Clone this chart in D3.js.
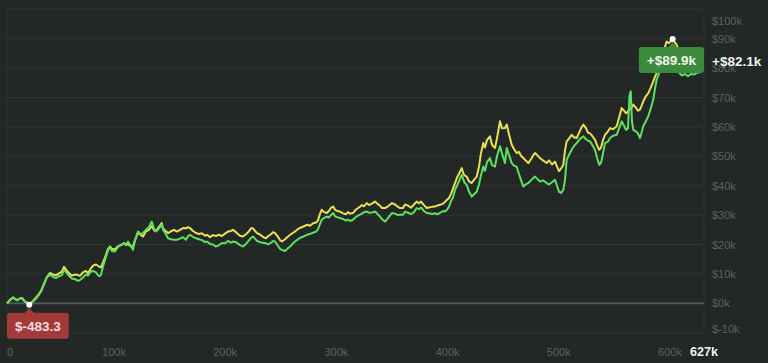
<!DOCTYPE html>
<html>
<head>
<meta charset="utf-8">
<script src="https://cdn.jsdelivr.net/npm/d3@7"></script>
<style>
  html, body { margin: 0; background: #232725; }
  svg { display: block; font-family: Arial, "Liberation Sans", sans-serif; }
</style>
</head>
<body>
<svg id="chart" width="768" height="363"></svg>
<script>
// trade count (thousands) and cumulative PnL (thousands of $) for both runs
const trades = [3.8,6.5,9.2,11.0,12.8,15.5,17.3,20.0,21.8,23.8,26.3,29.0,31.7,34.4,37.1,39.7,42.4,45.1,47.8,50.5,
  53.2,55.0,57.7,60.4,62.2,64.9,67.6,69.4,72.1,74.8,76.6,79.3,81.1,83.8,86.5,88.3,90.1,92.8,94.6,96.4,
  98.2,100.9,103.6,106.3,109.0,110.8,112.6,115.3,117.1,118.9,121.6,124.3,126.1,128.8,131.5,133.9,136.0,137.8,140.5,142.9,
  144.1,145.9,148.6,151.3,154.0,156.7,159.4,162.1,164.7,166.5,168.3,171.0,173.7,176.4,179.1,181.8,183.6,186.3,189.0,191.7,
  194.4,197.1,199.8,202.5,205.2,207.0,209.7,213.3,216.0,218.7,221.4,223.2,225.0,226.8,228.6,231.3,234.0,236.7,238.5,241.2,
  243.0,244.8,247.5,249.3,251.1,253.8,256.5,259.2,261.0,262.8,265.5,268.2,270.9,273.6,276.3,279.0,281.7,283.5,285.3,286.8,
  288.9,291.3,293.4,295.2,297.2,298.8,300.6,303.2,305.9,308.6,310.4,312.2,314.9,317.6,320.3,323.0,324.8,327.3,329.3,332.0,
  334.7,336.5,339.2,341.0,343.7,346.4,348.2,350.0,352.7,355.4,357.2,359.9,361.7,364.4,367.1,369.8,372.2,374.3,376.1,378.8,
  381.2,383.3,386.0,388.7,390.5,393.2,395.9,397.7,399.5,401.3,403.1,404.9,406.7,408.5,410.2,412.7,413.9,415.2,417.2,419.2,
  421.7,423.7,426.2,428.3,430.0,432.1,433.6,435.4,438.1,439.9,442.6,444.4,447.1,448.9,451.6,453.2,455.2,457.7,459.7,462.1,
  464.2,466.0,468.1,470.5,472.6,475.0,476.8,478.6,480.4,483.1,485.8,489.1,491.2,493.9,496.6,498.4,500.2,502.0,504.1,505.6,
  507.1,509.2,511.6,513.7,516.1,518.2,520.0,522.1,524.5,526.3,528.1,529.9,532.6,534.4,536.4,538.0,539.8,541.6,544.3,546.1,
  548.8,552.1,554.2,556.6,558.6,560.4,562.2,563.6,564.7,565.8,567.0,569.4,571.2,573.0,574.8,576.0,578.4,580.5,582.9,585.0,
  586.5,588.1,591.0,593.7,597.0,599.1,602.4,603.6,606.0,608.1,610.8,613.5,616.2,618.9,621.6,624.3,627.0];

const yellowPnl = [0,1.2,2.0,1.4,1.1,1.6,1.8,0.6,0.2,-0.4833,0.4,1.6,2.8,4.2,6.5,9.0,10.3,9.8,9.5,10.2,
  10.8,12.4,11.0,10.0,9.4,9.8,9.6,9.3,10.5,11.0,10.2,11.9,12.8,13.2,12.5,12.2,13.8,16.5,18.5,19.3,
  18.4,18.4,19.4,19.8,20.5,19.8,20.2,19.3,19.3,21.5,24.0,23.2,22.7,24.5,25.0,26.3,24.8,24.6,26.0,27.3,
  25.5,24.8,23.9,24.5,25.0,24.4,25.0,25.6,25.5,25.9,25.6,24.6,23.9,23.6,23.8,23.0,23.3,22.5,23.2,22.9,
  23.3,22.9,23.7,24.4,24.6,25.0,24.2,23.0,22.7,23.5,24.5,25.5,25.5,24.6,23.9,23.4,22.6,22.1,22.8,23.5,
  24.2,23.9,22.6,21.5,21.0,21.8,22.7,23.5,24.0,24.4,25.3,25.8,26.2,26.7,26.4,27.2,27.5,28.2,30.5,31.8,
  31.0,30.7,31.5,32.5,32.9,31.8,31.4,31.2,30.6,30.3,31.0,30.5,30.7,31.9,32.6,33.4,33.0,34.1,33.4,33.9,
  34.6,34.0,33.2,32.4,32.4,33.0,33.5,34.1,33.6,32.8,32.4,32.4,33.6,33.2,32.5,33.6,34.6,34.0,34.6,33.4,
  32.4,32.6,32.8,32.9,33.2,33.5,33.9,34.5,35.2,35.8,37.2,39.0,40.9,42.8,44.0,46.0,44.5,43.5,43.1,41.5,
  40.9,42.0,43.1,46.5,51.0,54.5,53.0,55.5,56.8,54.0,52.8,56.0,61.9,59.5,59.6,60.8,57.5,53.9,52.5,51.1,
  51.5,50.2,49.4,48.5,47.7,49.0,50.2,51.1,50.5,49.4,48.6,47.7,48.6,47.2,48.2,46.5,45.0,45.8,47.1,52.0,
  55.1,56.0,57.3,56.5,56.2,58.0,59.5,60.8,59.6,58.0,57.8,57.0,55.6,53.8,52.2,53.0,55.5,57.3,58.5,59.6,
  59.2,60.2,63.0,66.4,65.5,64.7,65.2,65.9,66.2,66.8,67.6,66.5,65.5,65.9,67.5,68.7,70.5,71.5,73.5,75.5,
  77.0,78.4,80.6,85.0,89.0,88.5,89.9,89.2,88.0,85.5,84.0,84.5,83.5,84.8,85.0,84.2,82.1];

const greenPnl = [0,1.0,2.0,1.5,1.0,1.7,1.7,0.5,0.3,-0.4,0.5,1.2,2.5,4.0,6.8,8.8,9.8,9.0,8.6,9.2,
  9.6,11.5,10.2,9.0,8.4,8.2,7.6,7.9,8.8,9.8,9.4,10.8,11.0,10.5,9.2,9.6,12.5,15.8,18.0,19.0,
  17.8,17.6,19.2,19.9,20.3,20.0,21.0,19.5,18.2,21.5,24.4,23.5,23.9,25.0,26.0,27.8,25.3,24.4,25.5,26.8,
  25.0,24.0,22.1,21.8,21.6,21.6,22.0,22.5,21.6,22.8,23.3,22.6,22.1,21.8,21.5,20.8,21.0,20.2,20.0,19.3,
  19.8,20.5,20.4,21.2,20.6,21.0,20.8,19.8,19.3,20.2,21.4,22.3,22.7,22.0,21.2,20.8,20.6,20.4,20.0,20.6,
  21.2,21.0,19.5,18.5,18.2,17.8,18.7,19.6,20.4,21.0,21.8,22.4,22.8,23.3,23.6,24.0,24.4,25.2,27.0,28.4,
  29.0,29.5,29.2,30.0,30.7,29.6,29.3,29.0,28.7,28.1,28.5,28.0,28.4,29.4,30.0,30.5,31.0,31.2,30.8,30.9,
  31.2,30.6,29.5,28.6,27.8,29.0,29.9,30.7,30.5,30.0,30.1,30.1,31.2,30.8,30.3,31.0,32.4,32.0,32.6,31.4,
  30.7,30.6,30.4,30.6,30.3,30.7,31.4,31.2,31.8,32.9,34.8,36.0,38.6,40.0,41.5,43.7,42.5,41.0,40.3,38.0,
  36.3,37.0,38.0,40.5,43.5,46.5,45.0,48.0,49.4,47.0,46.5,50.0,53.4,51.0,47.7,52.8,50.5,47.7,46.8,46.5,
  44.0,42.0,39.7,40.5,40.9,41.8,42.5,43.1,42.4,41.4,41.8,40.9,40.4,41.2,42.0,40.0,38.0,37.5,38.6,42.0,
  48.8,50.5,52.2,53.5,54.5,55.5,56.2,56.8,55.8,55.3,55.1,54.0,52.2,49.5,47.1,47.8,51.0,54.5,55.0,56.2,
  57.0,57.3,59.5,61.9,60.5,59.0,59.5,70.5,72.1,62.0,59.0,58.5,57.8,56.2,58.5,60.2,62.0,63.6,66.5,69.3,
  73.0,76.1,79.0,81.0,82.0,81.5,82.5,82.0,80.0,78.5,77.5,78.0,77.2,78.0,77.8,78.4,78.6];

const yTickValues = [-10, 0, 10, 20, 30, 40, 50, 60, 70, 80, 90, 100];
const xTickValues = [0, 100, 200, 300, 400, 500, 600];

const COLORS = { bg: "#232725", yellow: "#ece04e", green: "#5de260", grid: "#2f3532", zero: "#525754",
  tick: "#5c625f", up: "#3d8a3f", down: "#a33a3a" };

const plot = { left: 7, right: 704, top: 9.3, bottom: 332.7 };
const svg = d3.select("#chart");

const x = d3.scaleLinear().domain([0, 630.6]).range([2.8, 704]);
const y = d3.scaleLinear().domain([-10, 100]).range([plot.bottom, plot.top]);

// grid + frame
svg.append("g").selectAll("line").data(yTickValues.filter((v) => v !== 0)).join("line")
  .attr("x1", plot.left).attr("x2", plot.right)
  .attr("y1", (d) => y(d)).attr("y2", (d) => y(d))
  .attr("stroke", COLORS.grid).attr("stroke-width", 1);
svg.append("rect").attr("x", plot.left).attr("y", plot.top)
  .attr("width", plot.right - plot.left).attr("height", plot.bottom - plot.top)
  .attr("fill", "none").attr("stroke", COLORS.grid);
svg.append("line").attr("x1", plot.left).attr("x2", plot.right)
  .attr("y1", y(0)).attr("y2", y(0)).attr("stroke", COLORS.zero).attr("stroke-width", 2);

// axis labels (edge labels are kept inside the frame)
const fmtY = (v) => "$" + v + "k";
svg.append("g").selectAll("text").data(yTickValues).join("text")
  .attr("x", 712).attr("y", (d) => Math.max(21, Math.min(329, y(d))))
  .attr("dominant-baseline", "central").attr("font-size", 11).attr("fill", COLORS.tick)
  .text(fmtY);
svg.append("g").selectAll("text").data(xTickValues).join("text")
  .attr("x", (d) => d === 0 ? plot.left : x(d)).attr("y", 352)
  .attr("text-anchor", (d) => d === 0 ? "start" : "middle")
  .attr("dominant-baseline", "central").attr("font-size", 11).attr("fill", COLORS.tick)
  .text((d) => d === 0 ? "0" : d + "k");
svg.append("text").attr("x", plot.right).attr("y", 352)
  .attr("text-anchor", "middle").attr("dominant-baseline", "central")
  .attr("font-size", 12.5).attr("font-weight", "bold").attr("fill", "#f2f2ee")
  .text(Math.round(trades[trades.length - 1]) + "k");

// series
const line = d3.line().x((d) => x(d[0])).y((d) => y(d[1]));
const series = [[yellowPnl, COLORS.yellow], [greenPnl, COLORS.green]];
series.forEach(([vals, color]) => {
  const pts = trades.map((t, i) => [t, vals[i]]).filter((p) => p[1] != null);
  svg.append("path").datum(pts).attr("d", line)
    .attr("fill", "none").attr("stroke", color).attr("stroke-width", 2)
    .attr("stroke-linejoin", "round");
});

// min / max badges of the main run
const fmtPnl = (v) => (v >= 0 ? "+" : "") + "$" +
  (Math.abs(v) < 1 ? (v * 1000).toFixed(1) : v.toFixed(1) + "k");

function badge(i, fill, textFill) {
  const cx = x(trades[i]), cy = y(yellowPnl[i]);
  const g = svg.append("g");
  const top = cy + 8, h = 26;
  const txt = g.append("text").attr("font-size", 13.5).attr("font-weight", "bold")
    .attr("fill", textFill).attr("text-anchor", "middle").attr("dominant-baseline", "central")
    .text(fmtPnl(yellowPnl[i]));
  const w = txt.node().getComputedTextLength() + 16;
  const bx = Math.max(plot.left, Math.min(plot.right - w, cx - w / 2));
  g.insert("path", "text").attr("d", `M${cx - 5},${top + 1}L${cx},${top - 5}L${cx + 5},${top + 1}Z`).attr("fill", fill);
  g.insert("rect", "text").attr("x", bx).attr("y", top).attr("width", w).attr("height", h)
    .attr("rx", 3).attr("fill", fill);
  txt.attr("x", bx + w / 2).attr("y", top + h / 2 + 0.5);
  svg.append("circle").attr("cx", cx).attr("cy", cy).attr("r", 3).attr("fill", "#ffffff");
}
badge(d3.minIndex(yellowPnl), COLORS.down, "#f6dede");
badge(d3.maxIndex(yellowPnl), COLORS.up, "#eef6ea");

// last value at the right, on a backing box that masks the tick label behind it
const last = yellowPnl[yellowPnl.length - 1];
const lastG = svg.append("g");
lastG.append("rect").attr("x", 708).attr("y", y(last) - 10).attr("width", 60).attr("height", 13)
  .attr("fill", COLORS.bg);
lastG.append("text").attr("x", 712).attr("y", y(last))
  .attr("dominant-baseline", "central").attr("font-size", 13.5).attr("font-weight", "bold")
  .attr("fill", "#f2f2ee").text(fmtPnl(last));
</script>
</body>
</html>
